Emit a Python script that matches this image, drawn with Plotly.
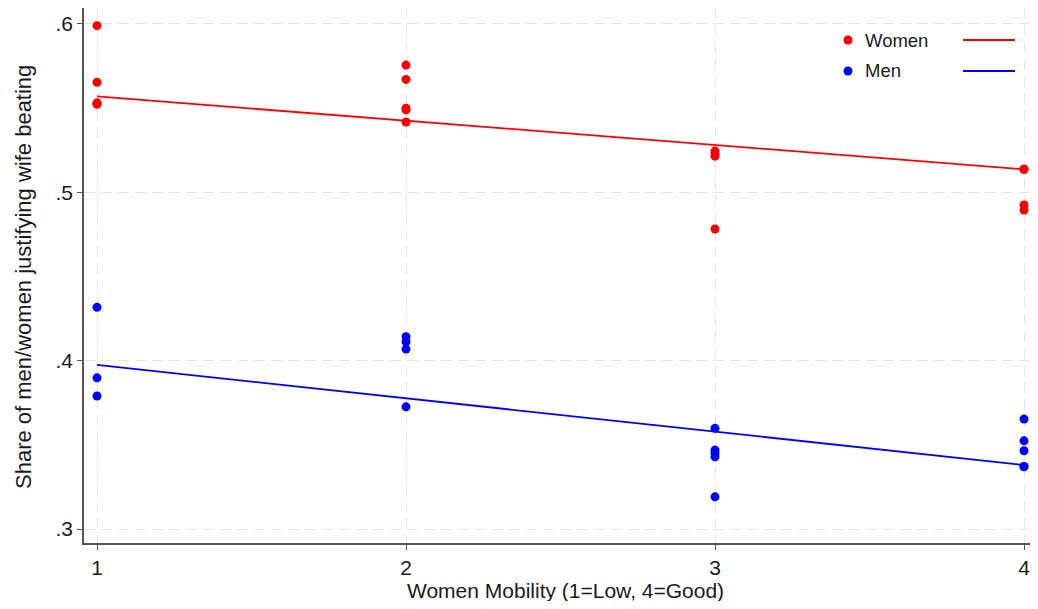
import plotly.graph_objects as go

# ---- data ----
women_x = [1, 1, 1, 1, 1, 2, 2, 2, 2, 2, 3, 3, 3, 3, 4, 4, 4, 4]
women_y = [0.599, 0.5654, 0.553, 0.553, 0.5523,
           0.5756, 0.5671, 0.5500, 0.5490, 0.5418,
           0.5245, 0.5230, 0.5215, 0.4782,
           0.5137, 0.5137, 0.4925, 0.4895]
men_x = [1, 1, 1, 2, 2, 2, 2, 3, 3, 3, 3, 3, 4, 4, 4, 4, 4]
men_y = [0.4317, 0.3898, 0.3790,
         0.4142, 0.4112, 0.4069, 0.3726,
         0.3598, 0.3469, 0.3450, 0.3429, 0.3191,
         0.3653, 0.3524, 0.3465, 0.3372, 0.3370]
fit_x = [1, 4]
fit_women = [0.5570, 0.5137]
fit_men = [0.3975, 0.3380]
x_ticks = [1, 2, 3, 4]
x_tick_labels = ["1", "2", "3", "4"]
y_ticks = [0.3, 0.4, 0.5, 0.6]
y_tick_labels = [".3", ".4", ".5", ".6"]
series_names = ["Women", "Men"]
x_title = "Women Mobility (1=Low, 4=Good)"
y_title = "Share of men/women justifying wife beating"

RED = "#ff0000"
BLUE = "#0000ff"
FONT = "Liberation Sans, Arial, sans-serif"
TXT = "#1a1a1a"

fig = go.Figure()
fig.add_trace(go.Scatter(x=women_x, y=women_y, mode="markers", name=series_names[0],
                         marker=dict(color=RED, size=9), showlegend=False, cliponaxis=False))
fig.add_trace(go.Scatter(x=men_x, y=men_y, mode="markers", name=series_names[1],
                         marker=dict(color=BLUE, size=9), showlegend=False, cliponaxis=False))
fig.add_trace(go.Scatter(x=fit_x, y=fit_women, mode="lines", line=dict(color=RED, width=1.8),
                         showlegend=False))
fig.add_trace(go.Scatter(x=fit_x, y=fit_men, mode="lines", line=dict(color=BLUE, width=1.8),
                         showlegend=False))

OFF = 8  # page body margin
W, H = 1038 - 2 * OFF, 609 - 2 * OFF
L, R, T, B = 76, 0, 0, 58
pw, ph = W - L - R, H - T - B


def px(xp):  # page pixel -> paper x
    return (xp - OFF - L) / pw


def py(yp):  # page pixel -> paper y
    return 1 - (yp - OFF - T) / ph


shapes = []
annotations = []
# legend background (covers grid)
shapes.append(dict(type="rect", xref="paper", yref="paper", layer="below",
                   x0=px(834), x1=px(1030), y0=py(92), y1=py(8),
                   fillcolor="white", line=dict(width=0)))
for name, col, yy in [(series_names[0], RED, 40), (series_names[1], BLUE, 71)]:
    shapes.append(dict(type="circle", xref="paper", yref="paper",
                       x0=px(843.5), x1=px(852.5), y0=py(yy + 4.5), y1=py(yy - 4.5),
                       fillcolor=col, line=dict(width=0)))
    shapes.append(dict(type="line", xref="paper", yref="paper",
                       x0=px(963), x1=px(1015), y0=py(yy), y1=py(yy),
                       line=dict(color=col, width=1.8)))
    annotations.append(dict(text=name, xref="paper", yref="paper", x=px(863), y=py(yy),
                            xanchor="left", yanchor="middle", showarrow=False,
                            font=dict(family=FONT, size=18.5, color=TXT)))

annotations.append(dict(text=x_title, xref="paper", yref="paper", x=px(565), y=py(590),
                        xanchor="center", yanchor="middle", showarrow=False,
                        font=dict(family=FONT, size=21, color=TXT)))
annotations.append(dict(text=y_title, xref="paper", yref="paper", x=px(23), y=py(277),
                        xanchor="center", yanchor="middle", showarrow=False, textangle=-90,
                        font=dict(family=FONT, size=22, color=TXT)))

axis_common = dict(showline=True, linecolor="#555555", linewidth=1.5,
                   ticks="outside", ticklen=5, tickcolor="#555555", tickwidth=1.3,
                   showgrid=True, gridcolor="#e6e6e6", gridwidth=1.4, griddash="11px,6px",
                   zeroline=False, tickfont=dict(family=FONT, size=21, color=TXT),
                   ticklabeloverflow="allow", mirror=False)

fig.update_layout(
    width=W, height=H,
    margin=dict(l=L, r=R, t=T, b=B),
    paper_bgcolor="white", plot_bgcolor="white",
    font=dict(family=FONT, color=TXT),
    xaxis=dict(range=[0.9579, 4.0194], tickvals=x_ticks, ticktext=x_tick_labels, **axis_common),
    yaxis=dict(range=[0.2917, 0.6095], tickvals=y_ticks, ticktext=y_tick_labels, **axis_common),
    shapes=shapes, annotations=annotations, showlegend=False,
)

fig.write_html("out.html")
